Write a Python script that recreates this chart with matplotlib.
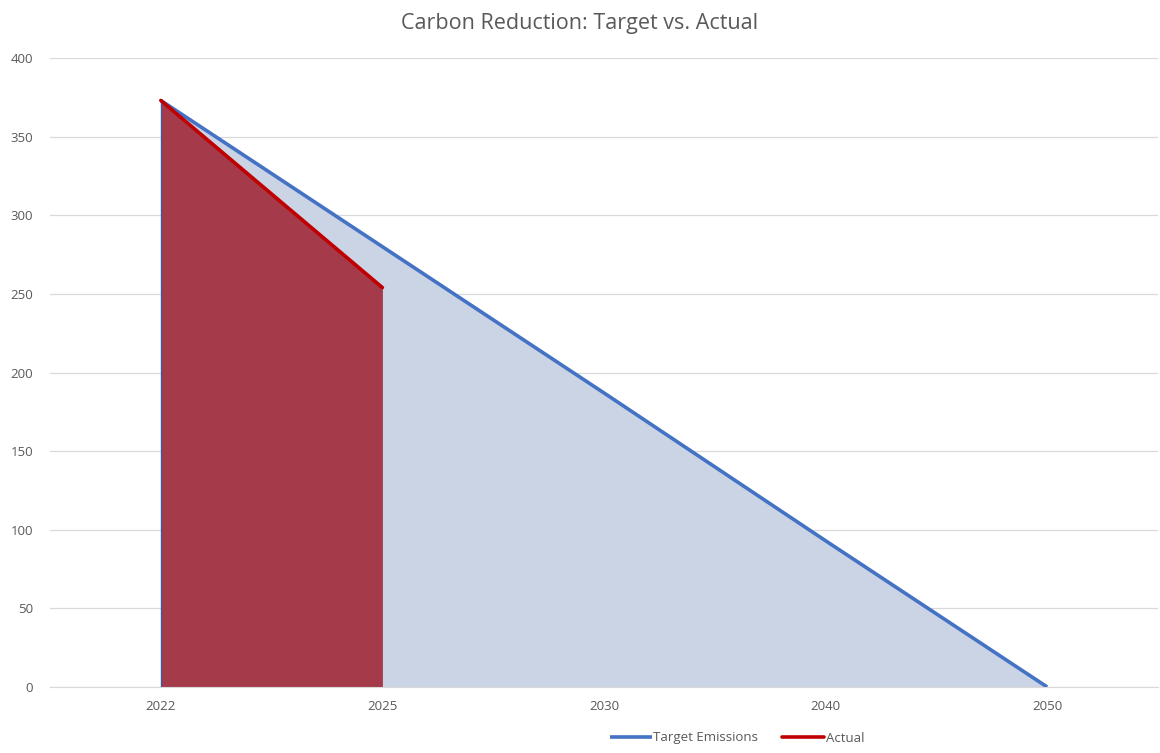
import matplotlib
matplotlib.use("Agg")
import matplotlib.pyplot as plt
import numpy as np

years = ["2022", "2025", "2030", "2040", "2050"]
target = [373, 280, 187, 93, 0]
actual_years = ["2022", "2025"]
actual = [373, 254]

plt.rcParams['font.family'] = ['Open Sans', 'DejaVu Sans']

fig = plt.figure(figsize=(11.6, 7.53), dpi=100)
ax = fig.add_axes([50/1160, 1-687/753, 1108/1160, (687-58)/753])

x = np.arange(len(years))
xa = np.arange(len(actual_years))

ax.fill_between(x, target, 0, color="#CBD4E5", linewidth=0, zorder=1)
ax.fill_between(xa, actual, 0, color="#A53A4A", linewidth=0, zorder=2)
ax.plot([0, 0], [0, actual[0]], color="#3F5A9A", linewidth=1.0, zorder=3)
ax.plot(x, target, color="#4472C4", linewidth=2.6, zorder=4, label="Target Emissions",
        solid_capstyle="butt")
ax.plot(xa, actual, color="#C00000", linewidth=2.6, zorder=5, label="Actual",
        solid_capstyle="round")

ax.set_xlim(-0.5, len(years) - 0.5)
ax.set_ylim(0, 400)
ax.set_xticks(x)
ax.set_xticklabels(years)
ax.set_yticks(np.arange(0, 401, 50))
ax.grid(axis="y", color="#D9D9D9", linewidth=0.9, zorder=0)
ax.set_axisbelow(True)
for s in ["top", "right", "left"]:
    ax.spines[s].set_visible(False)
ax.spines["bottom"].set_color("#D9D9D9")
ax.tick_params(axis="both", length=0, colors="#595959", labelsize=9.5)
ax.tick_params(axis="x", pad=9)
ax.tick_params(axis="y", pad=12)

fig.text(0.5, 1-23/753, "Carbon Reduction: Target vs. Actual", ha="center", va="center",
         fontsize=15.5, color="#595959")

fig.legend(loc="center", bbox_to_anchor=(737/1160, 1-738/753), ncol=2, frameon=False,
           fontsize=9.5, handlelength=3.2, handletextpad=0.1, columnspacing=1.8,
           labelcolor="#595959")

fig.savefig("out.png", dpi=100)
